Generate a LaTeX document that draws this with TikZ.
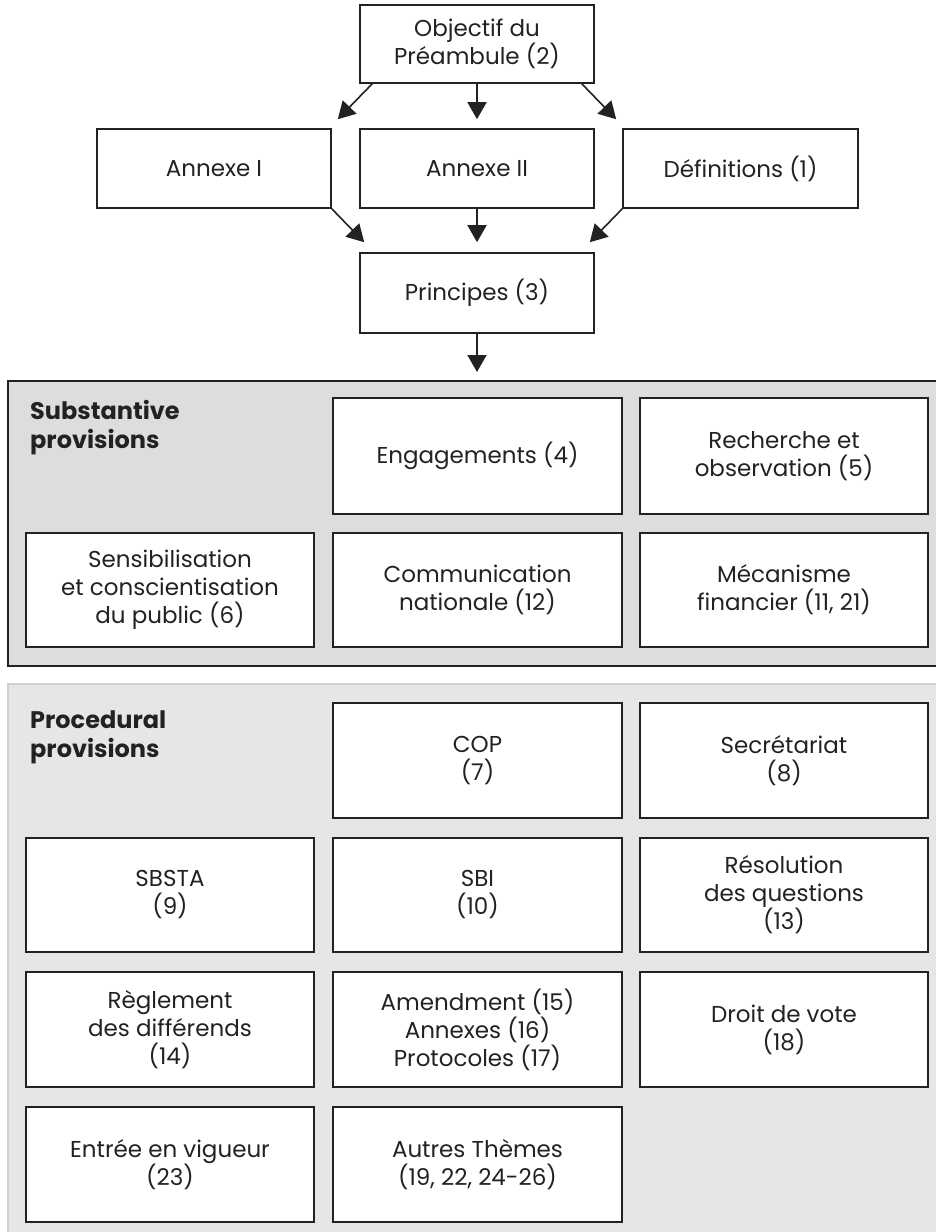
\documentclass[tikz,border=0pt]{standalone}
\usepackage{fontspec}
\setmainfont{Poppins}
\usetikzlibrary{arrows.meta,calc}
\definecolor{ink}{HTML}{222222}
\definecolor{subfill}{HTML}{DCDDDC}
\definecolor{procfill}{HTML}{E6E6E6}
\definecolor{procline}{HTML}{D0D0D0}
\tikzset{
  box/.style={draw=ink, line width=1.6pt, fill=white, text=ink, align=center,
    inner sep=0pt, font=\fontsize{23}{28}\selectfont},
  arr/.style={draw=ink, line width=1.6pt, -{Triangle[length=17pt,width=19pt]}},
  paneltitle/.style={anchor=north west, align=left, text=ink, inner sep=0pt,
    font=\fontsize{24}{29}\selectfont\bfseries},
}
\begin{document}
\begin{tikzpicture}[x=1pt,y=-1pt]
\useasboundingbox (0,0) rectangle (936,1232);
\clip (0,0) rectangle (936,1232);
% top part
\node[box, minimum width=234pt, minimum height=78pt] (obj) at (477,44) {Objectif du\\Préambule (2)};
\node[box, minimum width=234pt, minimum height=79pt] (ann1) at (214,168.5) {Annexe I};
\node[box, minimum width=234pt, minimum height=79pt] (ann2) at (477,168.5) {Annexe II};
\node[box, minimum width=235pt, minimum height=79pt] (def) at (740.5,168.5) {Définitions (1)};
\node[box, minimum width=234pt, minimum height=80pt] (princ) at (477,293) {Principes (3)};
\draw[arr] ($(obj.south west)+(13,0)$) -- ($(ann1.north east)+(6,-9)$);
\draw[arr] (obj.south) -- ($(ann2.north)+(0,-9)$);
\draw[arr] ($(obj.south east)+(-13,0)$) -- ($(def.north west)+(-6,-9)$);
\draw[arr] (ann1.south east) -- ($(princ.north west)+(5,-10)$);
\draw[arr] (ann2.south) -- ($(princ.north)+(0,-10)$);
\draw[arr] (def.south west) -- ($(princ.north east)+(-5,-10)$);
% substantive panel
\node[draw=ink, line width=1.7pt, fill=subfill, minimum width=940pt, minimum height=285pt, anchor=north west, inner sep=0pt] (subst) at (7,380) {};
\draw[arr] (princ.south) -- ($(subst.north west)+(470,-8)$);
\node[paneltitle] (substt) at (30,400) {Substantive\\provisions};
\node[box, minimum width=289pt, minimum height=116pt] (eng) at (477.5,456) {Engagements (4)};
\node[box, minimum width=288pt, minimum height=116pt] (rech) at (784,456) {Recherche et\\observation (5)};
\node[box, minimum width=288pt, minimum height=114pt] (sens) at (170,590) {Sensibilisation\\et conscientisation\\du public (6)};
\node[box, minimum width=289pt, minimum height=114pt] (comm) at (477.5,590) {Communication\\nationale (12)};
\node[box, minimum width=288pt, minimum height=114pt] (meca) at (784,590) {Mécanisme\\financier (11, 21)};
% procedural panel
\node[draw=procline, line width=1.7pt, fill=procfill, minimum width=940pt, minimum height=570pt, anchor=north west, inner sep=0pt] (proc) at (7,683) {};
\node[paneltitle] (proct) at (30,711) {Procedural\\provisions};
\node[box, minimum width=289pt, minimum height=115pt] (cop) at (477.5,760.5) {COP\\(7)};
\node[box, minimum width=288pt, minimum height=115pt] (secr) at (784,760.5) {Secrétariat\\(8)};
\node[box, minimum width=288pt, minimum height=114pt] (sbsta) at (170,895) {SBSTA\\(9)};
\node[box, minimum width=289pt, minimum height=114pt] (sbi) at (477.5,895) {SBI\\(10)};
\node[box, minimum width=288pt, minimum height=114pt] (reso) at (784,895) {Résolution\\des questions\\(13)};
\node[box, minimum width=288pt, minimum height=115pt] (regl) at (170,1029.5) {Règlement\\des différends\\(14)};
\node[box, minimum width=289pt, minimum height=115pt] (amen) at (477.5,1029.5) {Amendment (15)\\Annexes (16)\\Protocoles (17)};
\node[box, minimum width=288pt, minimum height=115pt] (droit) at (784,1029.5) {Droit de vote\\(18)};
\node[box, minimum width=288pt, minimum height=115pt] (entree) at (170,1164.5) {Entrée en vigueur\\(23)};
\node[box, minimum width=289pt, minimum height=115pt] (autres) at (477.5,1164.5) {Autres Thèmes\\(19, 22, 24-26)};
\end{tikzpicture}
\end{document}
